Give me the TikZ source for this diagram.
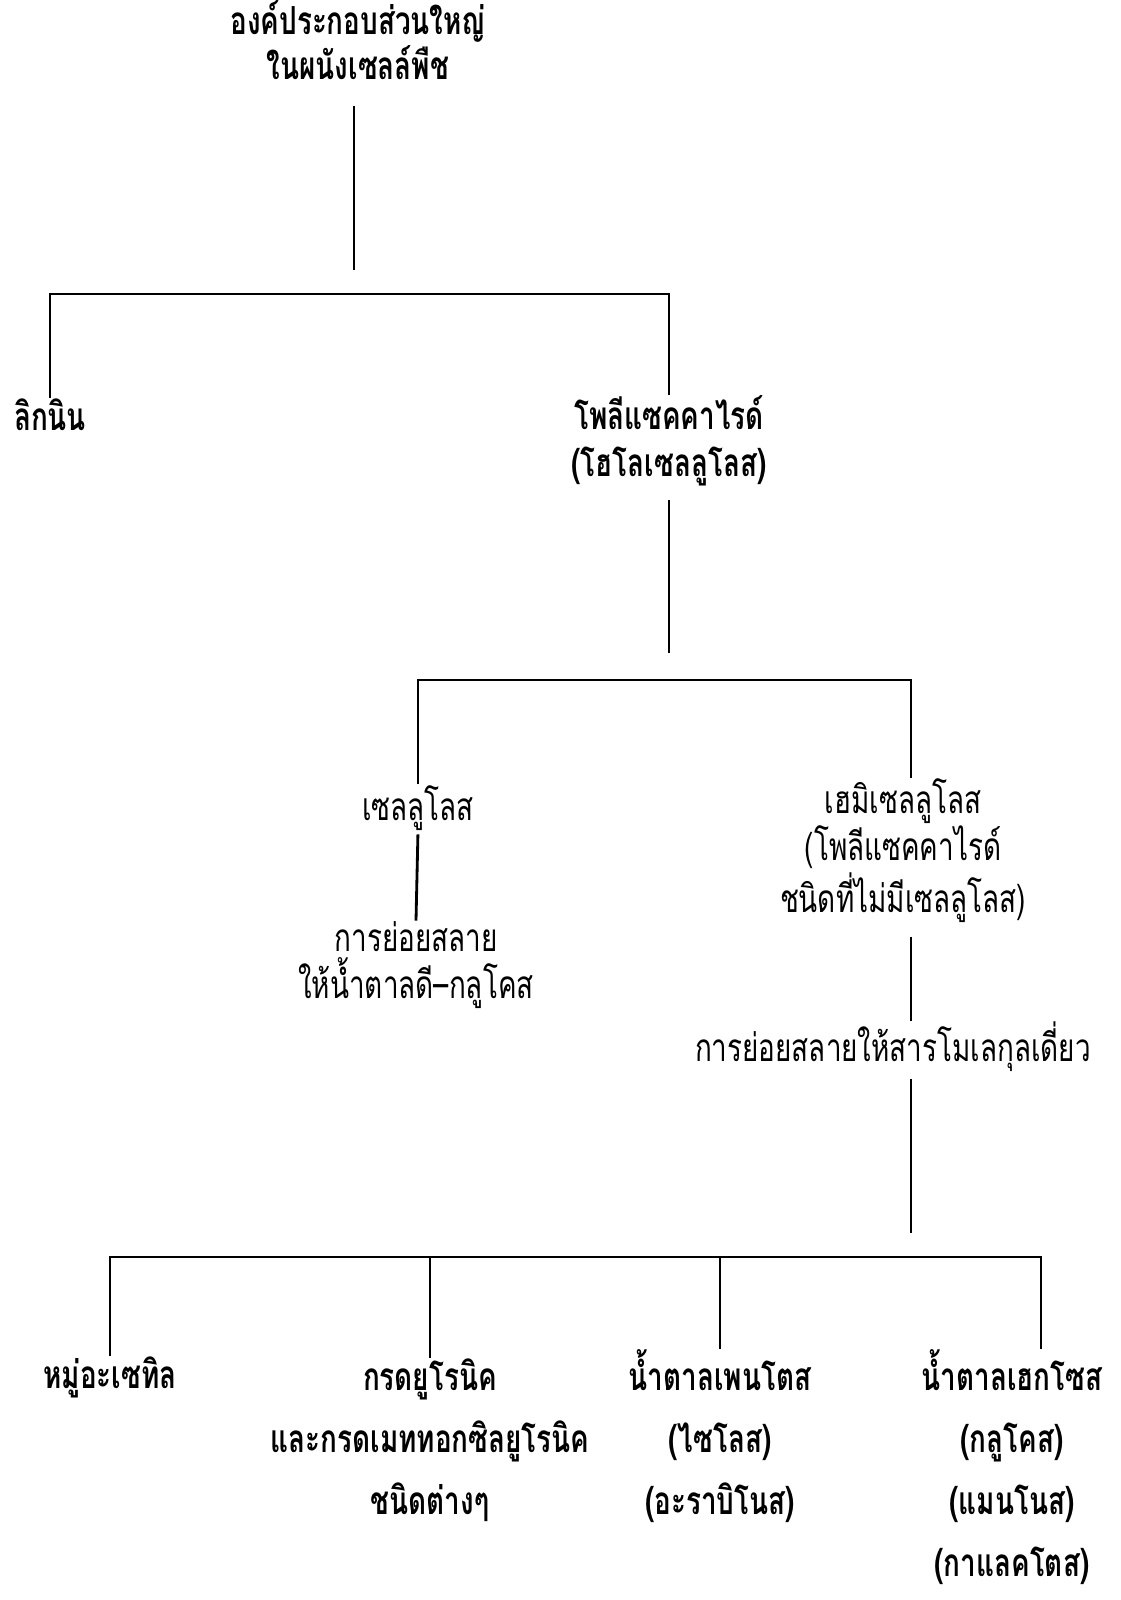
\documentclass[tikz,border=0pt]{standalone}
\usepackage{fontspec}
\newfontfamily\thaifont[Script=Thai, FakeStretch=0.72]{Loma}
\usetikzlibrary{positioning}

\begin{document}
\begin{tikzpicture}[
				x=0.01cm, y=-0.01cm,
				txt/.style={align=center, inner sep=0pt, anchor=base, font=\thaifont\fontsize{11}{13.3}\selectfont},
				txtb/.style={txt, font=\thaifont\bfseries\fontsize{11}{13.3}\selectfont},
				bot/.style={txt, font=\thaifont\bfseries\fontsize{11}{17.6}\selectfont},
				ln/.style={line width=0.8pt}
				]
				\useasboundingbox (0,0) rectangle (1120,1600);
				\node[txtb, font=\thaifont\bfseries\fontsize{11}{12.8}\selectfont] (wall) at (358,80) {องค์ประกอบส่วนใหญ่\\ในผนังเซลล์พืช};
				\node[txtb] (lig) at (50,430) {ลิกนิน};
				\node[txtb] (poly) at (669,476) {โพลีแซคคาไรด์\\(โฮโลเซลลูโลส)};
				\node[txt] (cell) at (418,820) {เซลลูโลส};
				\node[txt] (hemi) at (903,912) {เฮมิเซลลูโลส\\(โพลีแซคคาไรด์\\ชนิดที่ไม่มีเซลลูโลส)};
				\node[txt] (celld) at (416,998) {การย่อยสลาย\\ให้น้ำตาลดี–กลูโคส};
				\node[txt] (hemid) at (893,1061) {การย่อยสลายให้สารโมเลกุลเดี่ยว};
				\node[bot] (ace) at (110,1388) {หมู่อะเซทิล};
				\node[bot] (uro) at (430,1514) {กรดยูโรนิค\\และกรดเมททอกซิลยูโรนิค\\ชนิดต่างๆ};
				\node[bot] (pen) at (720,1514) {น้ำตาลเพนโตส\\(ไซโลส)\\(อะราบิโนส)};
				\node[bot] (hex) at (1012,1576) {น้ำตาลเฮกโซส\\(กลูโคส)\\(แมนโนส)\\(กาแลคโตส)};
				\coordinate (s0) at (354,270);
				\coordinate (b0) at (354,294);
				\coordinate (s1) at (669,653);
				\coordinate (b1) at (669,680);
				\coordinate (s2) at (911,1233);
				\coordinate (b2) at (911,1257);
				\coordinate (h2) at (1041,1257);
				\draw[ln, shorten <=7pt] (s0 |- wall.south) -- (s0);
				\draw[ln] (lig.north) -- (lig.north |- b0) -- (poly.north |- b0) -- (poly.north);
				\draw[ln, shorten <=4pt] (poly.south) -- (s1);
				\draw[ln] (cell.north) -- (cell.north |- b1) -- (b1 -| s2) -- (hemi.north -| s2);
				\draw[ln, shorten <=1pt] (cell.south) -- (celld.north);
				\draw[ln, shorten <=4pt] (hemi.south -| s2) -- (hemid.north -| s2);
				\draw[ln, shorten <=2pt] (hemid.south -| s2) -- (s2);
				\draw[ln] (ace.north) -- (ace.north |- b2) -- (h2) -- (h2 |- hex.north);
				\draw[ln] (uro.north) -- (uro.north |- b2);
				\draw[ln] (pen.north) -- (pen.north |- b2);
			\end{tikzpicture}
\end{document}
